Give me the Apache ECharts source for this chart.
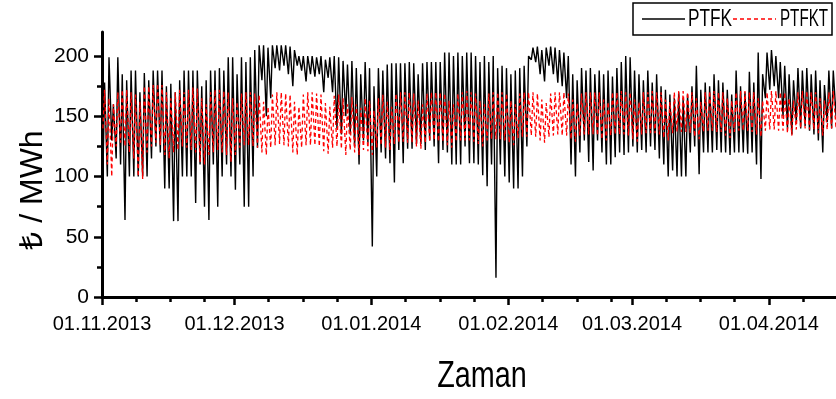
<!DOCTYPE html>
<html>
<head>
<meta charset="utf-8">
<script src="https://cdn.jsdelivr.net/npm/echarts@6/dist/echarts.min.js"></script>
<style>
html,body{margin:0;padding:0;background:#fff;}
#c{width:836px;height:399px;}
</style>
</head>
<body>
<div id="c"></div>
<script>
// Day index 0 = 01.11.2013
const tickDays = [0, 30, 61, 92, 120, 151];
const tickLabels = ['01.11.2013', '01.12.2013', '01.01.2014', '01.02.2014', '01.03.2014', '01.04.2014'];
const minorTickDays = [7.75, 15.5, 23.25, 37.75, 45.5, 53.25, 68.75, 76.5, 84.25, 99.75, 107.5, 115.25, 127.75, 135.5, 143.25, 158.75];
const yTicks = [0, 50, 100, 150, 200];
const yMinorTicks = [25, 75, 125, 175];
const seriesNames = ['PTFK', 'PTFKT'];

// PTFK daily low / high (TL/MWh)
const ptfkLow = [
 100,100,130,115,110,64,100,100,100,100,100,115,125,120,90,90,63,63,100,100,100,78,110,75,64,110,75,100,110,100,
 89,110,75,75,100,124,180,150,165,190,188,192,185,175,192,188,179,185,183,185,170,182,170,140,135,150,135,125,110,130,128,
 42,100,120,115,111,95,122,111,123,123,127,127,122,130,125,111,122,120,110,110,110,125,111,111,110,101,92,110,16,110,100,
 95,90,90,100,125,197,195,185,179,192,185,178,175,165,110,100,120,130,112,105,130,120,110,110,116,120,118,120,
 125,120,122,120,125,122,115,110,100,105,100,100,100,120,125,102,120,120,120,122,120,120,118,120,120,120,119,120,110,98,165,
 172,175,165,150,140,135,145,140,142,138,135,130,120,145,140,150
];
const ptfkHigh = [
 178,199,160,199,185,180,188,188,170,186,180,188,188,188,175,177,170,180,188,188,188,188,175,180,188,188,190,188,199,199,
 185,199,195,199,205,209,209,207,209,209,209,209,208,205,200,200,200,200,199,200,197,199,200,199,196,193,196,190,185,195,190,
 175,190,188,193,194,194,194,194,195,194,185,194,195,195,195,195,203,203,200,203,200,203,203,200,195,200,195,200,190,192,190,
 185,188,190,192,200,207,208,205,207,208,207,205,203,200,185,180,190,188,190,185,188,185,188,183,190,195,200,199,
 188,185,180,188,178,185,175,172,168,165,170,165,168,175,192,172,178,175,185,180,178,172,168,188,175,170,187,178,203,185,203,
 205,200,195,192,185,180,190,188,190,185,188,180,176,188,188,185
];
// PTFKT daily low / high (TL/MWh)
const ptfktLow = [
 140,110,100,125,128,125,120,115,100,98,120,125,128,126,118,115,120,122,125,124,122,120,112,110,118,120,122,120,118,112,
 118,124,126,126,125,124,120,118,124,126,127,126,125,120,118,124,126,126,126,125,121,119,124,125,123,118,122,120,118,122,121,
 118,124,126,124,122,127,128,129,128,128,125,123,128,129,130,129,129,126,124,129,130,130,130,129,127,125,130,131,131,131,130,
 128,126,132,133,133,134,133,130,128,133,134,135,134,134,131,129,134,135,135,135,134,131,130,134,135,135,135,134,
 131,129,135,136,136,136,135,132,130,136,137,137,137,136,133,131,137,138,138,137,137,134,132,137,138,138,138,137,135,133,138,
 139,139,138,138,136,134,139,140,140,139,139,136,134,139,140,140
];
const ptfktHigh = [
 172,165,160,170,172,172,170,168,162,175,175,176,177,176,170,165,170,172,170,172,174,173,165,160,170,172,172,171,170,165,
 162,169,170,170,169,168,162,158,168,170,170,169,168,162,158,168,170,170,169,168,161,158,167,168,165,160,166,160,157,165,163,
 155,165,168,162,158,169,170,170,170,169,163,160,169,170,170,170,169,163,160,169,170,171,170,169,163,160,169,170,170,170,169,
 163,160,169,170,170,170,169,164,161,169,170,170,170,169,164,161,169,170,170,170,170,164,162,170,170,171,170,170,
 164,162,170,170,171,170,170,164,162,170,171,171,170,170,165,162,170,171,171,170,170,165,163,170,171,171,170,170,165,163,170,
 171,171,170,170,165,163,170,171,171,170,170,165,163,170,171,171
];
const lowHour = 5, highHour = 14;

function toSeries(low, high) {
  const out = [];
  for (let d = 0; d < low.length; d++) {
    out.push([d + lowHour / 24, low[d]]);
    out.push([d + highHour / 24, high[d]]);
  }
  return out;
}

const FONT = '"Liberation Sans",Arial,sans-serif';
const chart = echarts.init(document.getElementById('c'), null, {renderer: 'canvas'});
chart.setOption({
  animation: false,
  backgroundColor: '#fff',
  grid: {left: 102, right: 0, top: 32, bottom: 102, containLabel: false},
  xAxis: [
    {
      type: 'value', min: 0, max: 166.2,
      axisLine: {lineStyle: {color: '#000', width: 3}},
      axisTick: {customValues: tickDays, length: 8, lineStyle: {color: '#000', width: 2.5}},
      axisLabel: {customValues: tickDays, margin: 17, color: '#000', fontFamily: FONT, fontSize: 20,
        formatter: v => tickLabels[tickDays.indexOf(Math.round(v))] || ''},
      splitLine: {show: false}
    },
    {
      type: 'value', min: 0, max: 166.2, position: 'bottom',
      axisLine: {show: false},
      axisTick: {customValues: minorTickDays, length: 5, lineStyle: {color: '#000', width: 2.5}},
      axisLabel: {show: false},
      splitLine: {show: false}
    }
  ],
  yAxis: [
    {
      type: 'value', min: 0, max: 220,
      axisLine: {show: true, lineStyle: {color: '#000', width: 3}},
      axisTick: {show: true, customValues: yTicks, length: 8, lineStyle: {color: '#000', width: 2.5}},
      axisLabel: {customValues: yTicks, margin: 13, color: '#000', fontFamily: FONT, fontSize: 21},
      splitLine: {show: false}
    },
    {
      type: 'value', min: 0, max: 220, position: 'left',
      axisLine: {show: false},
      axisTick: {show: true, customValues: yMinorTicks, length: 5, lineStyle: {color: '#000', width: 2.5}},
      axisLabel: {show: false},
      splitLine: {show: false}
    }
  ],
  series: [
    {
      name: seriesNames[0], type: 'line', xAxisIndex: 0, yAxisIndex: 0,
      data: toSeries(ptfkLow, ptfkHigh), symbol: 'none',
      lineStyle: {color: '#000', width: 1.4}, itemStyle: {color: '#000'}
    },
    {
      name: seriesNames[1], type: 'line', xAxisIndex: 0, yAxisIndex: 0,
      data: toSeries(ptfktLow, ptfktHigh), symbol: 'none',
      lineStyle: {color: '#ff0000', width: 1.3, type: [4, 3]}, itemStyle: {color: '#ff0000'}
    }
  ],
  graphic: [
    {type: 'text', x: 482, y: 377, scaleX: 0.8, style: {text: 'Zaman', font: '36px ' + FONT, fill: '#000', align: 'center', verticalAlign: 'middle'}},
    {type: 'text', x: 33, y: 190, rotation: Math.PI / 2, style: {text: '₺ / MWh', font: '32px ' + FONT, fill: '#000', align: 'center', verticalAlign: 'middle'}},
    // legend
    {type: 'rect', shape: {x: 633, y: 3, width: 199, height: 32}, style: {fill: '#fff', stroke: '#000', lineWidth: 1.5}, z: 100},
    {type: 'line', shape: {x1: 642, y1: 19, x2: 685, y2: 19}, style: {stroke: '#000', lineWidth: 1.3}, z: 101},
    {type: 'text', x: 688, y: 20, scaleX: 0.75, style: {text: seriesNames[0], font: '23px ' + FONT, fill: '#000', align: 'left', verticalAlign: 'middle'}, z: 101},
    {type: 'line', shape: {x1: 733, y1: 19, x2: 776, y2: 19}, style: {stroke: '#ff0000', lineWidth: 1.3, lineDash: [4, 3]}, z: 101},
    {type: 'text', x: 780, y: 20, scaleX: 0.66, style: {text: seriesNames[1], font: '23px ' + FONT, fill: '#000', align: 'left', verticalAlign: 'middle'}, z: 101}
  ]
});
</script>
</body>
</html>
